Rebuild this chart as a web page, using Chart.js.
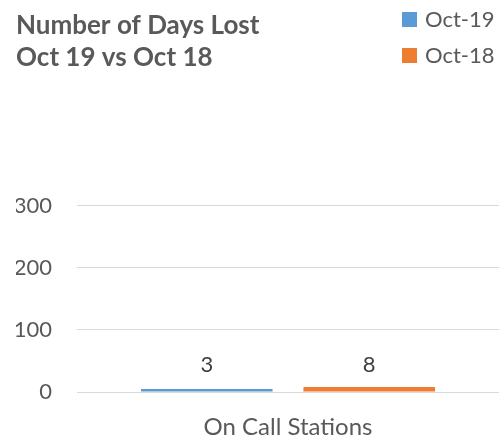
<!DOCTYPE html>
<html>
<head>
<meta charset="utf-8">
<script src="https://cdn.jsdelivr.net/npm/chart.js@4"></script>
<style>
  html, body { margin: 0; padding: 0; background: #fff; }
  #wrap { width: 502px; height: 439px; }
</style>
</head>
<body>
<div id="wrap"><canvas id="myChart" width="502" height="439"></canvas></div>
<script>
const categories = ["On Call Stations"];
const seriesNames = ["Oct-19", "Oct-18"];
const oct19 = [3];
const oct18 = [8];
const yTicks = [0, 100, 200, 300];
const titleLines = ["Number of Days Lost", "Oct 19 vs Oct 18"];

const textColor = "#595959";
const fontFamily = "Lato, 'Open Sans', sans-serif";

// value labels over the bars + the little legend in the top right
const extras = {
  id: "extras",
  afterDatasetsDraw(chart){
    const ctx = chart.ctx;
    ctx.save();
    ctx.fillStyle = "#404040";
    ctx.font = "22px " + fontFamily;
    ctx.textAlign = "center";
    ctx.textBaseline = "middle";
    chart.data.datasets.forEach((ds, i) => {
      chart.getDatasetMeta(i).data.forEach((bar, j) => {
        ctx.fillText(ds.data[j], bar.x, chart.chartArea.bottom - 27);
      });
    });

    ctx.textAlign = "left";
    ctx.font = "22px " + fontFamily;
    chart.data.datasets.forEach((ds, i) => {
      let y = 19.5 + i * 36;
      ctx.fillStyle = ds.backgroundColor;
      ctx.fillRect(402, y - 7.5, 15, 15);
      ctx.fillStyle = textColor;
      ctx.fillText(ds.label, 425, y);
    });
    ctx.restore();
  }
};

const data = {
  labels: categories,
  datasets: [
    {
      label: seriesNames[0],
      data: oct19,
      backgroundColor: "#5B9BD5",
      categoryPercentage: 0.77,
      barPercentage: 0.81,
      minBarLength: 3
    },
    {
      label: seriesNames[1],
      data: oct18,
      backgroundColor: "#ED7D31",
      categoryPercentage: 0.77,
      barPercentage: 0.81,
      minBarLength: 3
    }
  ]
};

const config = {
  type: "bar",
  data: data,
  plugins: [extras],
  options: {
    responsive: false,
    animation: false,
    layout: {
      padding: { left: 16, right: 3, top: 6, bottom: 0 }
    },
    plugins: {
      legend: { display: false },
      tooltip: { enabled: false },
      title: {
        display: true,
        text: titleLines,
        align: "start",
        color: textColor,
        font: { family: fontFamily, size: 26, weight: "bold", lineHeight: 1.2 },
        padding: { top: 4.5, bottom: 133 }
      }
    },
    scales: {
      x: {
        grid: { display: false, drawTicks: false },
        border: { display: false },
        ticks: {
          color: textColor,
          font: { family: fontFamily, size: 24 },
          padding: 20.5
        },
        afterFit(scale){
          scale.height = 47;
        }
      },
      y: {
        min: 0,
        max: 300,
        afterBuildTicks(axis){
          axis.ticks = yTicks.map(v => ({ value: v }));
        },
        grid: { color: "#d9d9d9", lineWidth: 1, drawTicks: false },
        border: { display: false },
        ticks: {
          color: textColor,
          font: { family: fontFamily, size: 22 },
          padding: 25
        },
        afterFit(scale){
          scale.width = 61;
        }
      }
    }
  }
};

const ctx = document.getElementById("myChart").getContext("2d");
new Chart(ctx, config);
</script>
</body>
</html>
